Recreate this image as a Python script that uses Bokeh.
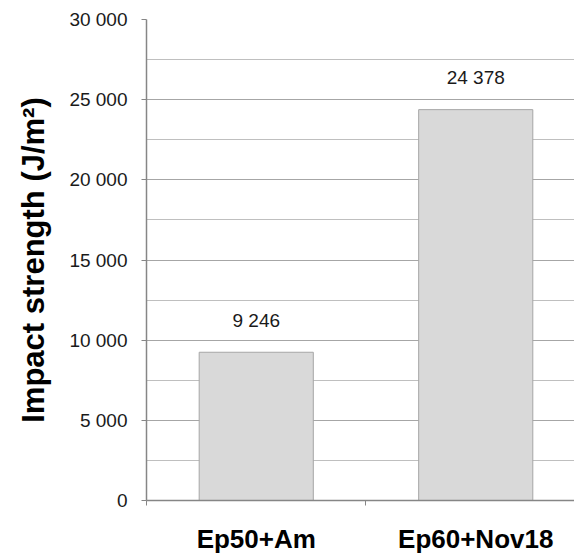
from bokeh.plotting import figure
from bokeh.models import Range1d, FixedTicker, ColumnDataSource, LabelSet
from bokeh.core.properties import value
from bokeh.embed import file_html
from bokeh.resources import INLINE

categories = ["Ep50+Am", "Ep60+Nov18"]
values = [9246, 24378]
value_labels = ["9\u00a0246", "24\u00a0378"]
y_ticks = [0, 5000, 10000, 15000, 20000, 25000, 30000]
y_tick_labels = ["0", "5\u00a0000", "10\u00a0000", "15\u00a0000", "20\u00a0000", "25\u00a0000", "30\u00a0000"]
y_minor = [2500, 7500, 12500, 17500, 22500, 27500]

xpos = [i + 0.5 for i in range(len(categories))]
src = ColumnDataSource(dict(x=xpos, top=values, lab=value_labels))

p = figure(width=574, height=556, output_backend="svg", toolbar_location=None,
           x_range=Range1d(0, 1.95), y_range=Range1d(0, 30000),
           min_border_left=146, min_border_right=0, min_border_top=19, min_border_bottom=54)
p.outline_line_color = None
p.background_fill_color = "white"

p.vbar(x="x", top="top", width=0.52, source=src, fill_color="#d9d9d9",
       line_color="#a6a6a6", line_width=1)

labels = LabelSet(x="x", y="top", text="lab", source=src, text_align="center",
                  text_baseline="middle", y_offset=32, text_font=value("Liberation Sans"),
                  text_font_size=value("19px"), text_color="#1a1a1a")
p.add_layout(labels)

# y axis
p.yaxis.ticker = FixedTicker(ticks=y_ticks, minor_ticks=y_minor)
p.yaxis.major_label_overrides = {t: l for t, l in zip(y_ticks, y_tick_labels)}
p.yaxis.axis_label = "Impact strength (J/m\u00b2)"
p.yaxis.axis_label_text_font = "Liberation Sans"
p.yaxis.axis_label_text_font_style = "bold"
p.yaxis.axis_label_text_font_size = "31px"
p.yaxis.axis_label_text_color = "black"
p.yaxis.axis_label_standoff = 15
p.yaxis.major_label_text_font = "Liberation Sans"
p.yaxis.major_label_text_font_size = "19px"
p.yaxis.major_label_text_color = "#1a1a1a"
p.yaxis.major_label_standoff = 14
p.yaxis.axis_line_color = "#868686"
p.yaxis.axis_line_width = 1.5
p.yaxis.major_tick_line_color = "#868686"
p.yaxis.major_tick_in = 0
p.yaxis.major_tick_out = 5
p.yaxis.minor_tick_in = 0
p.yaxis.minor_tick_out = 0

# x axis
p.xaxis.ticker = FixedTicker(ticks=xpos, minor_ticks=[0, 1, 2])
p.xaxis.major_label_overrides = {x: c for x, c in zip(xpos, categories)}
p.xaxis.major_label_text_font = "Liberation Sans"
p.xaxis.major_label_text_font_style = "bold"
p.xaxis.major_label_text_font_size = "26px"
p.xaxis.major_label_text_color = "black"
p.xaxis.major_label_standoff = 18
p.xaxis.axis_line_color = "#868686"
p.xaxis.axis_line_width = 1.5
p.xaxis.major_tick_in = 0
p.xaxis.major_tick_out = 0
p.xaxis.minor_tick_line_color = "#868686"
p.xaxis.minor_tick_in = 0
p.xaxis.minor_tick_out = 5

p.xgrid.grid_line_color = None
p.ygrid.ticker = FixedTicker(ticks=y_ticks, minor_ticks=y_minor)
p.ygrid.grid_line_color = "#a6a6a6"
p.ygrid.grid_line_width = 1
p.ygrid.minor_grid_line_color = "#bfbfbf"
p.ygrid.minor_grid_line_width = 1

open("out.html", "w").write(file_html(p, INLINE))
